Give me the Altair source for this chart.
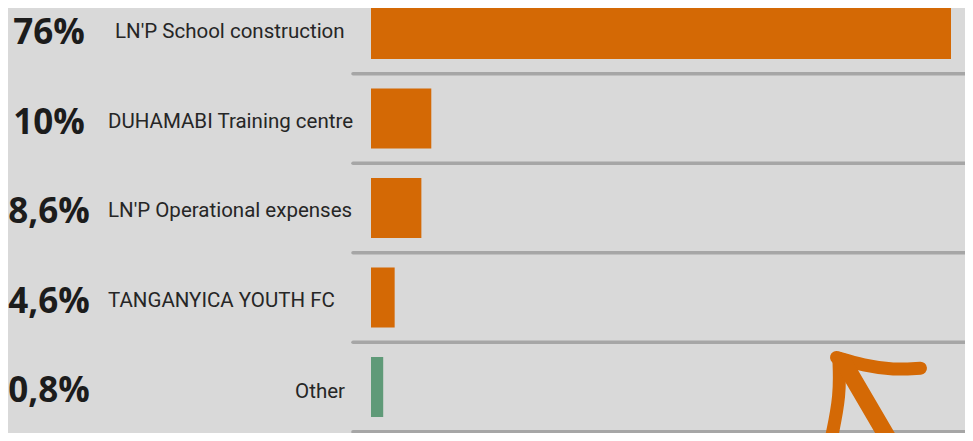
import altair as alt
import pandas as pd

# ---- data ----
categories = ["LN'P School construction", "DUHAMABI Training centre",
              "LN'P Operational expenses", "TANGANYICA YOUTH FC", "Other"]
share_labels = ["76%", "10%", "8,6%", "4,6%", "0,8%"]
# bar lengths as drawn (longest bar = 76 units)
bar_lengths = [76, 7.9, 6.6, 3.1, 1.6]
groups = ["project", "project", "project", "project", "other"]

# hand-drawn annotation arrow (in the chart's data units)
arrow_stroke = ["head_top"] * 4 + ["head_left"] * 3 + ["shaft"] * 2
arrow_x = [61.0, 64.5, 68.5, 72.0, 61.3, 61.5, 60.3, 61.9, 68.0]
arrow_y = [3.67, 3.76, 3.81, 3.79, 3.68, 4.09, 4.58, 3.72, 4.61]

ORANGE = "#d46905"
GREEN = "#5f9a78"
BG = "#d9d9d9"
SEP = "#a6a6a6"

df = pd.DataFrame({
    "row": list(range(len(categories))),
    "category": categories,
    "share": share_labels,
    "bar": bar_lengths,
    "group": groups,
})
sep_df = pd.DataFrame({"b": [r + 0.5 for r in range(len(categories))]})
arrow_df = pd.DataFrame({
    "stroke": arrow_stroke,
    "seq": list(range(len(arrow_x))),
    "ax": arrow_x,
    "ay": arrow_y,
})

x_scale = alt.Scale(domain=[0, 76], range=[363, 943], nice=False, zero=False)
y_scale = alt.Scale(domain=[0, 4], range=[16, 384], nice=False, zero=False)

base = alt.Chart(df)

bars = base.mark_bar(height=60).encode(
    x=alt.X("bar:Q", scale=x_scale, axis=None),
    x2=alt.datum(0),
    y=alt.Y("row:Q", scale=y_scale, axis=None),
    color=alt.Color("group:N",
                    scale=alt.Scale(domain=["project", "other"], range=[ORANGE, GREEN]),
                    legend=None),
)

seps = alt.Chart(sep_df).mark_rule(strokeWidth=3.5, color=SEP, strokeCap="round").encode(
    y=alt.Y("b:Q", scale=y_scale, axis=None),
    x=alt.value(345),
    x2=alt.value(960),
)

pct = base.mark_text(font="Open Sans", fontWeight="bold", fontSize=35,
                     align="center", baseline="middle", dy=4, color="#1c1c1c").encode(
    y=alt.Y("row:Q", scale=y_scale, axis=None),
    x=alt.value(41),
    text="share:N",
)

label_style = dict(font="Roboto", fontSize=20.5, baseline="middle", color="#262626")

cat_first = base.transform_filter("datum.row == 0").mark_text(
    align="left", dy=3, **label_style
).encode(
    y=alt.Y("row:Q", scale=y_scale, axis=None),
    x=alt.value(107),
    text="category:N",
)

cat_left = base.transform_filter("datum.group != 'other' && datum.row != 0").mark_text(
    align="left", dy=3, **label_style
).encode(
    y=alt.Y("row:Q", scale=y_scale, axis=None),
    x=alt.value(100),
    text="category:N",
)

cat_right = base.transform_filter("datum.group == 'other'").mark_text(
    align="right", dy=5, **label_style
).encode(
    y=alt.Y("row:Q", scale=y_scale, axis=None),
    x=alt.value(337),
    text="category:N",
)

arrow_base = alt.Chart(arrow_df)
arrow_head = arrow_base.transform_filter("datum.stroke != 'shaft'").mark_line(
    color=ORANGE, strokeWidth=13, strokeCap="round", strokeJoin="round",
    interpolate="basis"
).encode(
    x=alt.X("ax:Q", scale=x_scale, axis=None),
    y=alt.Y("ay:Q", scale=y_scale, axis=None),
    detail="stroke:N",
    order="seq:Q",
)
arrow_shaft = arrow_base.transform_filter("datum.stroke == 'shaft'").mark_line(
    color=ORANGE, strokeWidth=17, strokeCap="round"
).encode(
    x=alt.X("ax:Q", scale=x_scale, axis=None),
    y=alt.Y("ay:Q", scale=y_scale, axis=None),
    order="seq:Q",
)

chart = alt.layer(seps, bars, pct, cat_first, cat_left, cat_right,
                  arrow_head, arrow_shaft).properties(
    width=957, height=425,
    padding=0,
    autosize=alt.AutoSizeParams(type="none"),
    background=BG,
).configure_view(stroke=None)

chart.save("out.html", embed_options={"renderer": "svg", "actions": False})
